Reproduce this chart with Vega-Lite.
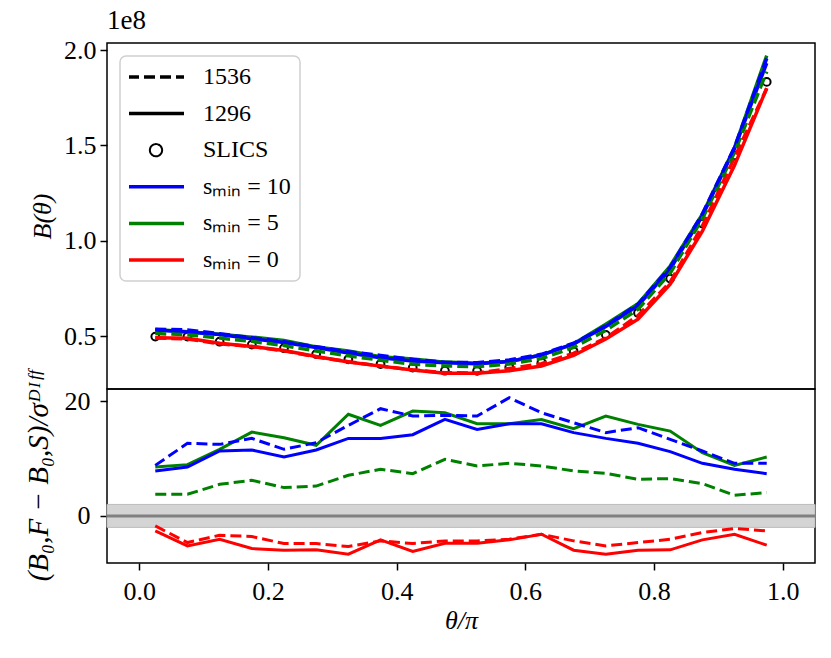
{
  "$schema": "https://vega.github.io/schema/vega-lite/v6.json",
  "background": "white",
  "padding": {"left": 23, "top": 6, "right": 5, "bottom": 5},
  "spacing": 0,
  "bounds": "flush",
  "config": {
    "view": {"stroke": "black", "strokeWidth": 1.5},
    "font": "Liberation Serif",
    "axis": {
      "domain": false, "grid": false, "tickColor": "black", "tickWidth": 1.5, "tickSize": 7,
      "labelFont": "Liberation Serif", "labelFontSize": 26, "labelColor": "black",
      "titleFont": "Liberation Serif", "titleFontSize": 26, "titleFontWeight": "normal", "titleColor": "black",
      "labelFlush": false
    }
  },
  "datasets": {
    "top": [
      {"x":0.025,"s":"0","r":"1296","B":0.491},{"x":0.075,"s":"0","r":"1296","B":0.488},{"x":0.125,"s":"0","r":"1296","B":0.462},{"x":0.175,"s":"0","r":"1296","B":0.445},{"x":0.225,"s":"0","r":"1296","B":0.424},{"x":0.275,"s":"0","r":"1296","B":0.392},{"x":0.325,"s":"0","r":"1296","B":0.364},{"x":0.375,"s":"0","r":"1296","B":0.342},{"x":0.425,"s":"0","r":"1296","B":0.322},{"x":0.475,"s":"0","r":"1296","B":0.305},{"x":0.525,"s":"0","r":"1296","B":0.304},{"x":0.575,"s":"0","r":"1296","B":0.318},{"x":0.625,"s":"0","r":"1296","B":0.343},{"x":0.675,"s":"0","r":"1296","B":0.398},{"x":0.725,"s":"0","r":"1296","B":0.484},{"x":0.775,"s":"0","r":"1296","B":0.588},{"x":0.825,"s":"0","r":"1296","B":0.772},{"x":0.875,"s":"0","r":"1296","B":1.05},{"x":0.925,"s":"0","r":"1296","B":1.395},{"x":0.975,"s":"0","r":"1296","B":1.80},
      {"x":0.025,"s":"0","r":"1536","B":0.490},{"x":0.075,"s":"0","r":"1536","B":0.484},{"x":0.125,"s":"0","r":"1536","B":0.459},{"x":0.175,"s":"0","r":"1536","B":0.445},{"x":0.225,"s":"0","r":"1536","B":0.422},{"x":0.275,"s":"0","r":"1536","B":0.390},{"x":0.325,"s":"0","r":"1536","B":0.365},{"x":0.375,"s":"0","r":"1536","B":0.343},{"x":0.425,"s":"0","r":"1536","B":0.322},{"x":0.475,"s":"0","r":"1536","B":0.307},{"x":0.525,"s":"0","r":"1536","B":0.306},{"x":0.575,"s":"0","r":"1536","B":0.329},{"x":0.625,"s":"0","r":"1536","B":0.355},{"x":0.675,"s":"0","r":"1536","B":0.409},{"x":0.725,"s":"0","r":"1536","B":0.489},{"x":0.775,"s":"0","r":"1536","B":0.607},{"x":0.825,"s":"0","r":"1536","B":0.783},{"x":0.875,"s":"0","r":"1536","B":1.077},{"x":0.925,"s":"0","r":"1536","B":1.437},{"x":0.975,"s":"0","r":"1536","B":1.798},
      {"x":0.025,"s":"5","r":"1296","B":0.534},{"x":0.075,"s":"5","r":"1296","B":0.522},{"x":0.125,"s":"5","r":"1296","B":0.509},{"x":0.175,"s":"5","r":"1296","B":0.494},{"x":0.225,"s":"5","r":"1296","B":0.476},{"x":0.275,"s":"5","r":"1296","B":0.443},{"x":0.325,"s":"5","r":"1296","B":0.422},{"x":0.375,"s":"5","r":"1296","B":0.391},{"x":0.425,"s":"5","r":"1296","B":0.379},{"x":0.475,"s":"5","r":"1296","B":0.363},{"x":0.525,"s":"5","r":"1296","B":0.357},{"x":0.575,"s":"5","r":"1296","B":0.366},{"x":0.625,"s":"5","r":"1296","B":0.401},{"x":0.675,"s":"5","r":"1296","B":0.459},{"x":0.725,"s":"5","r":"1296","B":0.562},{"x":0.775,"s":"5","r":"1296","B":0.669},{"x":0.825,"s":"5","r":"1296","B":0.867},{"x":0.875,"s":"5","r":"1296","B":1.139},{"x":0.925,"s":"5","r":"1296","B":1.488},{"x":0.975,"s":"5","r":"1296","B":1.971},
      {"x":0.025,"s":"5","r":"1536","B":0.513},{"x":0.075,"s":"5","r":"1536","B":0.507},{"x":0.125,"s":"5","r":"1536","B":0.489},{"x":0.175,"s":"5","r":"1536","B":0.472},{"x":0.225,"s":"5","r":"1536","B":0.450},{"x":0.275,"s":"5","r":"1536","B":0.421},{"x":0.325,"s":"5","r":"1536","B":0.396},{"x":0.375,"s":"5","r":"1536","B":0.373},{"x":0.425,"s":"5","r":"1536","B":0.352},{"x":0.475,"s":"5","r":"1536","B":0.343},{"x":0.525,"s":"5","r":"1536","B":0.339},{"x":0.575,"s":"5","r":"1536","B":0.353},{"x":0.625,"s":"5","r":"1536","B":0.382},{"x":0.675,"s":"5","r":"1536","B":0.440},{"x":0.725,"s":"5","r":"1536","B":0.530},{"x":0.775,"s":"5","r":"1536","B":0.640},{"x":0.825,"s":"5","r":"1536","B":0.830},{"x":0.875,"s":"5","r":"1536","B":1.115},{"x":0.925,"s":"5","r":"1536","B":1.464},{"x":0.975,"s":"5","r":"1536","B":1.887},
      {"x":0.025,"s":"10","r":"1296","B":0.531},{"x":0.075,"s":"10","r":"1296","B":0.521},{"x":0.125,"s":"10","r":"1296","B":0.508},{"x":0.175,"s":"10","r":"1296","B":0.486},{"x":0.225,"s":"10","r":"1296","B":0.466},{"x":0.275,"s":"10","r":"1296","B":0.440},{"x":0.325,"s":"10","r":"1296","B":0.411},{"x":0.375,"s":"10","r":"1296","B":0.386},{"x":0.425,"s":"10","r":"1296","B":0.369},{"x":0.475,"s":"10","r":"1296","B":0.360},{"x":0.525,"s":"10","r":"1296","B":0.354},{"x":0.575,"s":"10","r":"1296","B":0.366},{"x":0.625,"s":"10","r":"1296","B":0.400},{"x":0.675,"s":"10","r":"1296","B":0.458},{"x":0.725,"s":"10","r":"1296","B":0.550},{"x":0.775,"s":"10","r":"1296","B":0.659},{"x":0.825,"s":"10","r":"1296","B":0.851},{"x":0.875,"s":"10","r":"1296","B":1.130},{"x":0.925,"s":"10","r":"1296","B":1.485},{"x":0.975,"s":"10","r":"1296","B":1.932},
      {"x":0.025,"s":"10","r":"1536","B":0.535},{"x":0.075,"s":"10","r":"1536","B":0.532},{"x":0.125,"s":"10","r":"1536","B":0.512},{"x":0.175,"s":"10","r":"1536","B":0.491},{"x":0.225,"s":"10","r":"1536","B":0.470},{"x":0.275,"s":"10","r":"1536","B":0.444},{"x":0.325,"s":"10","r":"1536","B":0.417},{"x":0.375,"s":"10","r":"1536","B":0.398},{"x":0.425,"s":"10","r":"1536","B":0.377},{"x":0.475,"s":"10","r":"1536","B":0.362},{"x":0.525,"s":"10","r":"1536","B":0.360},{"x":0.575,"s":"10","r":"1536","B":0.374},{"x":0.625,"s":"10","r":"1536","B":0.404},{"x":0.675,"s":"10","r":"1536","B":0.462},{"x":0.725,"s":"10","r":"1536","B":0.553},{"x":0.775,"s":"10","r":"1536","B":0.667},{"x":0.825,"s":"10","r":"1536","B":0.860},{"x":0.875,"s":"10","r":"1536","B":1.140},{"x":0.925,"s":"10","r":"1536","B":1.490},{"x":0.975,"s":"10","r":"1536","B":1.956}
    ],
    "slics": [
      {"x":0.025,"B":0.497},{"x":0.075,"B":0.497},{"x":0.125,"B":0.47},{"x":0.175,"B":0.455},{"x":0.225,"B":0.436},{"x":0.275,"B":0.405},{"x":0.325,"B":0.378},{"x":0.375,"B":0.353},{"x":0.425,"B":0.334},{"x":0.475,"B":0.318},{"x":0.525,"B":0.317},{"x":0.575,"B":0.336},{"x":0.625,"B":0.362},{"x":0.675,"B":0.42},{"x":0.725,"B":0.506},{"x":0.775,"B":0.621},{"x":0.825,"B":0.801},{"x":0.875,"B":1.09},{"x":0.925,"B":1.447},{"x":0.975,"B":1.833}
    ],
    "diff": [
      {"x":0.025,"s":"0","r":"1296","d":-2.61},{"x":0.075,"s":"0","r":"1296","d":-5.22},{"x":0.125,"s":"0","r":"1296","d":-4.06},{"x":0.175,"s":"0","r":"1296","d":-5.68},{"x":0.225,"s":"0","r":"1296","d":-5.97},{"x":0.275,"s":"0","r":"1296","d":-5.91},{"x":0.325,"s":"0","r":"1296","d":-6.67},{"x":0.375,"s":"0","r":"1296","d":-4.17},{"x":0.425,"s":"0","r":"1296","d":-6.2},{"x":0.475,"s":"0","r":"1296","d":-4.75},{"x":0.525,"s":"0","r":"1296","d":-4.75},{"x":0.575,"s":"0","r":"1296","d":-4.17},{"x":0.625,"s":"0","r":"1296","d":-3.19},{"x":0.675,"s":"0","r":"1296","d":-5.97},{"x":0.725,"s":"0","r":"1296","d":-6.67},{"x":0.775,"s":"0","r":"1296","d":-5.97},{"x":0.825,"s":"0","r":"1296","d":-5.91},{"x":0.875,"s":"0","r":"1296","d":-4.17},{"x":0.925,"s":"0","r":"1296","d":-3.19},{"x":0.975,"s":"0","r":"1296","d":-5.1},
      {"x":0.025,"s":"0","r":"1536","d":-1.74},{"x":0.075,"s":"0","r":"1536","d":-4.64},{"x":0.125,"s":"0","r":"1536","d":-3.36},{"x":0.175,"s":"0","r":"1536","d":-3.59},{"x":0.225,"s":"0","r":"1536","d":-4.81},{"x":0.275,"s":"0","r":"1536","d":-4.81},{"x":0.325,"s":"0","r":"1536","d":-5.33},{"x":0.375,"s":"0","r":"1536","d":-4.35},{"x":0.425,"s":"0","r":"1536","d":-4.81},{"x":0.475,"s":"0","r":"1536","d":-4.35},{"x":0.525,"s":"0","r":"1536","d":-4.35},{"x":0.575,"s":"0","r":"1536","d":-4.06},{"x":0.625,"s":"0","r":"1536","d":-3.19},{"x":0.675,"s":"0","r":"1536","d":-4.35},{"x":0.725,"s":"0","r":"1536","d":-5.22},{"x":0.775,"s":"0","r":"1536","d":-4.64},{"x":0.825,"s":"0","r":"1536","d":-4.06},{"x":0.875,"s":"0","r":"1536","d":-2.9},{"x":0.925,"s":"0","r":"1536","d":-2.2},{"x":0.975,"s":"0","r":"1536","d":-2.61},
      {"x":0.025,"s":"5","r":"1296","d":8.52},{"x":0.075,"s":"5","r":"1296","d":8.93},{"x":0.125,"s":"5","r":"1296","d":11.6},{"x":0.175,"s":"5","r":"1296","d":14.6},{"x":0.225,"s":"5","r":"1296","d":13.6},{"x":0.275,"s":"5","r":"1296","d":12.3},{"x":0.325,"s":"5","r":"1296","d":17.7},{"x":0.375,"s":"5","r":"1296","d":15.77},{"x":0.425,"s":"5","r":"1296","d":18.26},{"x":0.475,"s":"5","r":"1296","d":17.97},{"x":0.525,"s":"5","r":"1296","d":16.06},{"x":0.575,"s":"5","r":"1296","d":16.06},{"x":0.625,"s":"5","r":"1296","d":16.8},{"x":0.675,"s":"5","r":"1296","d":15.19},{"x":0.725,"s":"5","r":"1296","d":17.4},{"x":0.775,"s":"5","r":"1296","d":15.94},{"x":0.825,"s":"5","r":"1296","d":14.78},{"x":0.875,"s":"5","r":"1296","d":11.01},{"x":0.925,"s":"5","r":"1296","d":8.8},{"x":0.975,"s":"5","r":"1296","d":10.26},
      {"x":0.025,"s":"5","r":"1536","d":3.77},{"x":0.075,"s":"5","r":"1536","d":3.77},{"x":0.125,"s":"5","r":"1536","d":5.5},{"x":0.175,"s":"5","r":"1536","d":6.2},{"x":0.225,"s":"5","r":"1536","d":4.93},{"x":0.275,"s":"5","r":"1536","d":5.2},{"x":0.325,"s":"5","r":"1536","d":7.07},{"x":0.375,"s":"5","r":"1536","d":8.12},{"x":0.425,"s":"5","r":"1536","d":7.36},{"x":0.475,"s":"5","r":"1536","d":9.86},{"x":0.525,"s":"5","r":"1536","d":8.7},{"x":0.575,"s":"5","r":"1536","d":9.16},{"x":0.625,"s":"5","r":"1536","d":8.7},{"x":0.675,"s":"5","r":"1536","d":7.83},{"x":0.725,"s":"5","r":"1536","d":7.42},{"x":0.775,"s":"5","r":"1536","d":6.38},{"x":0.825,"s":"5","r":"1536","d":6.5},{"x":0.875,"s":"5","r":"1536","d":5.62},{"x":0.925,"s":"5","r":"1536","d":3.59},{"x":0.975,"s":"5","r":"1536","d":4.06},
      {"x":0.025,"s":"10","r":"1296","d":7.83},{"x":0.075,"s":"10","r":"1296","d":8.52},{"x":0.125,"s":"10","r":"1296","d":11.3},{"x":0.175,"s":"10","r":"1296","d":11.48},{"x":0.225,"s":"10","r":"1296","d":10.26},{"x":0.275,"s":"10","r":"1296","d":11.48},{"x":0.325,"s":"10","r":"1296","d":13.5},{"x":0.375,"s":"10","r":"1296","d":13.5},{"x":0.425,"s":"10","r":"1296","d":14.14},{"x":0.475,"s":"10","r":"1296","d":16.8},{"x":0.525,"s":"10","r":"1296","d":15.07},{"x":0.575,"s":"10","r":"1296","d":16.06},{"x":0.625,"s":"10","r":"1296","d":16.06},{"x":0.675,"s":"10","r":"1296","d":14.5},{"x":0.725,"s":"10","r":"1296","d":13.5},{"x":0.775,"s":"10","r":"1296","d":12.64},{"x":0.825,"s":"10","r":"1296","d":11.2},{"x":0.875,"s":"10","r":"1296","d":9.16},{"x":0.925,"s":"10","r":"1296","d":8.12},{"x":0.975,"s":"10","r":"1296","d":7.36},
      {"x":0.025,"s":"10","r":"1536","d":8.8},{"x":0.075,"s":"10","r":"1536","d":12.64},{"x":0.125,"s":"10","r":"1536","d":12.46},{"x":0.175,"s":"10","r":"1536","d":13.5},{"x":0.225,"s":"10","r":"1536","d":11.6},{"x":0.275,"s":"10","r":"1536","d":12.75},{"x":0.325,"s":"10","r":"1536","d":15.77},{"x":0.375,"s":"10","r":"1536","d":18.67},{"x":0.425,"s":"10","r":"1536","d":17.4},{"x":0.475,"s":"10","r":"1536","d":17.5},{"x":0.525,"s":"10","r":"1536","d":17.4},{"x":0.575,"s":"10","r":"1536","d":20.58},{"x":0.625,"s":"10","r":"1536","d":17.97},{"x":0.675,"s":"10","r":"1536","d":16.23},{"x":0.725,"s":"10","r":"1536","d":14.5},{"x":0.775,"s":"10","r":"1536","d":15.36},{"x":0.825,"s":"10","r":"1536","d":13.33},{"x":0.875,"s":"10","r":"1536","d":11.3},{"x":0.925,"s":"10","r":"1536","d":9.16},{"x":0.975,"s":"10","r":"1536","d":9.16}
    ]
  },
  "resolve": {"scale": {"color": "independent"}, "legend": {"color": "independent"}},
  "vconcat": [
    {
      "width": 708,
      "height": 346,
      "title": {"text": "1e8", "anchor": "start", "frame": "group", "font": "Liberation Serif", "fontSize": 27, "fontWeight": "normal", "color": "black", "offset": 2},
      "layer": [
        {
          "data": {"name": "slics"},
          "mark": {"type": "point", "shape": "circle", "filled": false, "stroke": "black", "strokeWidth": 2, "size": 60, "opacity": 1},
          "encoding": {
            "x": {"field": "x", "type": "quantitative", "scale": {"domain": [-0.05, 1.05], "nice": false, "zero": false}, "axis": null},
            "y": {"field": "B", "type": "quantitative", "title": "B(θ)", "scale": {"domain": [0.222, 2.037], "nice": false, "zero": false},
                  "axis": {"values": [0.5, 1.0, 1.5, 2.0], "format": ".1f", "labelPadding": 4, "titlePadding": 8, "titleFontStyle": "italic"}}
          }
        },
        {
          "data": {"name": "top"},
          "transform": [{"filter": "datum.r === '1296'"}],
          "mark": {"type": "line", "strokeWidth": 3.5},
          "encoding": {
            "x": {"field": "x", "type": "quantitative", "axis": null},
            "y": {"field": "B", "type": "quantitative", "title": "B(θ)"},
            "color": {"field": "s", "type": "nominal",
              "scale": {"domain": ["1536", "1296", "SLICS", "10", "5", "0"], "range": ["black", "black", "black", "blue", "green", "red"]},
              "legend": {
                "orient": "top-left", "offset": 13, "title": null,
                "fillColor": "white", "strokeColor": "#d0d0d0", "cornerRadius": 6, "padding": 9,
                "rowPadding": 12.6, "symbolStrokeWidth": 3.5, "symbolType": "stroke", "clipHeight": 24,
                "symbolOffset": 15,
                "labelFont": "Liberation Serif", "labelFontSize": 24, "labelOffset": 35, "labelColor": "black",
                "labelExpr": "datum.value === '10' ? 'sₘᵢₙ = 10' : datum.value === '5' ? 'sₘᵢₙ = 5' : datum.value === '0' ? 'sₘᵢₙ = 0' : datum.label",
                "encode": {
                  "legend": {"update": {"strokeWidth": {"value": 1.5}}},
                  "symbols": {"update": {
                    "shape": {"signal": "datum.value === 'SLICS' ? 'circle' : 'stroke'"},
                    "size": {"signal": "datum.value === 'SLICS' ? 150 : 3136"},
                    "strokeDash": {"signal": "datum.value === '1536' ? [11, 5] : [1, 0]"},
                    "strokeWidth": {"signal": "datum.value === 'SLICS' ? 2 : 3.5"},
                    "fill": {"value": "transparent"},
                    "opacity": {"value": 1}
                  }}
                }
              }
            }
          }
        },
        {
          "data": {"name": "top"},
          "transform": [{"filter": "datum.r === '1536'"}],
          "mark": {"type": "line", "strokeWidth": 3.5, "strokeDash": [11, 5]},
          "encoding": {
            "x": {"field": "x", "type": "quantitative", "axis": null},
            "y": {"field": "B", "type": "quantitative", "title": "B(θ)"},
            "color": {"field": "s", "type": "nominal", "legend": null}
          }
        }
      ]
    },
    {
      "width": 708,
      "height": 174,
      "layer": [
        {
          "data": {"values": [{"lo": -2, "hi": 2}]},
          "mark": {"type": "rect", "color": "#d4d4d4", "stroke": "#bdbdbd", "strokeWidth": 1},
          "encoding": {
            "y": {"field": "lo", "type": "quantitative", "title": "(B₀,F − B₀,S)/σᴰᴵᶠᶠ",
                  "scale": {"domain": [-8.2, 22.1], "nice": false, "zero": false},
                  "axis": {"values": [0, 20], "format": "d", "labelPadding": 10, "titlePadding": 11, "titleFontStyle": "italic", "titleFontSize": 29}},
            "y2": {"field": "hi"}
          }
        },
        {
          "data": {"values": [{}]},
          "mark": {"type": "rule", "color": "#808080", "strokeWidth": 3},
          "encoding": {"y": {"datum": 0, "type": "quantitative", "title": "(B₀,F − B₀,S)/σᴰᴵᶠᶠ"}}
        },
        {
          "data": {"name": "diff"},
          "transform": [{"filter": "datum.r === '1296'"}],
          "mark": {"type": "line", "strokeWidth": 3},
          "encoding": {
            "x": {"field": "x", "type": "quantitative", "title": "θ/π", "scale": {"domain": [-0.05, 1.05], "nice": false, "zero": false},
                  "axis": {"values": [0, 0.2, 0.4, 0.6, 0.8, 1.0], "format": ".1f", "labelPadding": 8, "titlePadding": 3, "titleFontStyle": "italic"}},
            "y": {"field": "d", "type": "quantitative", "title": "(B₀,F − B₀,S)/σᴰᴵᶠᶠ"},
            "color": {"field": "s", "type": "nominal", "scale": {"domain": ["10", "5", "0"], "range": ["blue", "green", "red"]}, "legend": null}
          }
        },
        {
          "data": {"name": "diff"},
          "transform": [{"filter": "datum.r === '1536'"}],
          "mark": {"type": "line", "strokeWidth": 3, "strokeDash": [11, 5]},
          "encoding": {
            "x": {"field": "x", "type": "quantitative", "title": "θ/π"},
            "y": {"field": "d", "type": "quantitative", "title": "(B₀,F − B₀,S)/σᴰᴵᶠᶠ"},
            "color": {"field": "s", "type": "nominal", "legend": null}
          }
        }
      ]
    }
  ]
}
